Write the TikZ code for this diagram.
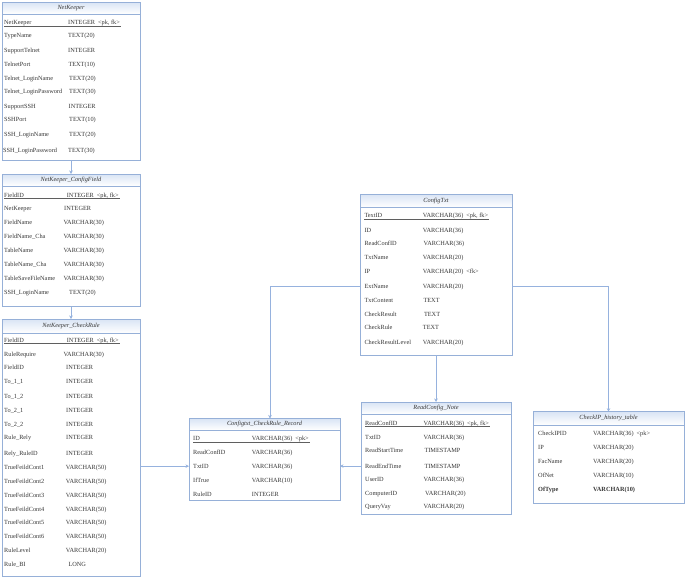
\documentclass[tikz,border=0pt]{standalone}
\usepackage{fontspec}
\setmainfont{Liberation Serif}
\usetikzlibrary{arrows.meta}
\definecolor{bcol}{RGB}{150,176,216}
\definecolor{lcol}{RGB}{150,178,222}
\definecolor{tcol}{RGB}{55,55,55}
\definecolor{htop}{RGB}{218,229,245}
\tikzset{
  tbox/.style={draw=bcol, line width=0.7pt, fill=white, inner sep=0pt, outer sep=0pt},
  htext/.style={font=\fontsize{6.3}{7}\selectfont\itshape, text=tcol, inner sep=0pt},
  rtext/.style={font=\fontsize{6.3}{7}\selectfont, text=tcol, inner sep=0pt, anchor=base west},
  conn/.style={draw=lcol, line width=0.6pt, -{Stealth[length=3.5pt,width=3.5pt]}},
  ul/.style={draw=tcol!80, line width=0.4pt},
}
% name, x1, y1, x2, y2, title, header height
\newcommand\ertab[7]{%
  \node[tbox, anchor=north west, minimum width={#4pt-#2pt}, minimum height={#5pt-#3pt}] (#1) at (#2,#3) {};
  \shade[top color=htop, bottom color=white] ([xshift=0.35pt,yshift=-0.35pt]#1.north west) rectangle ([xshift=-0.35pt,yshift=-#7pt]#1.north east);
  \draw[draw=bcol, line width=0.7pt] ([yshift=-#7pt]#1.north west) -- ([yshift=-#7pt]#1.north east);
  \draw[draw=bcol, line width=0.7pt] (#1.north west) rectangle (#1.south east);
  \node[htext] (#1-title) at ([yshift={-#7pt/2}]#1.north) {#6};
}
% id, y, xname, name, xtype, type
\newcommand\errow[6]{%
  \node[rtext] (#1n) at ([yshift=-2.2pt]#3,#2) {#4};
  \node[rtext] (#1t) at ([yshift=-2.2pt]#5,#2) {#6};
}
\newcommand\erul[1]{\draw[ul] ([yshift=-1.3pt]#1n.base west) -- ([yshift=-1.3pt,xshift=1pt]#1t.base east);}
\begin{document}
\begin{tikzpicture}[x=1pt, y=-1pt]
\useasboundingbox (0,0) rectangle (685,578);

% NetKeeper
\ertab{nk}{2}{2}{140}{160}{NetKeeper}{12}
\errow{nk1}{22.7}{4}{NetKeeper}{68}{INTEGER\hspace{3pt}<pk, fk>}\erul{nk1}
\errow{nk2}{35.7}{4}{TypeName}{68}{TEXT(20)}
\errow{nk3}{50}{4}{SupportTelnet}{68}{INTEGER}
\errow{nk4}{64}{4}{TelnetPort}{68.3}{TEXT(10)}
\errow{nk5}{78}{4}{Telnet\_LoginName}{69}{TEXT(20)}
\errow{nk6}{91.7}{4}{Telnet\_LoginPassword}{69}{TEXT(30)}
\errow{nk7}{106.7}{4}{SupportSSH}{68.5}{INTEGER}
\errow{nk8}{119}{4}{SSHPort}{69}{TEXT(10)}
\errow{nk9}{134}{4}{SSH\_LoginName}{69}{TEXT(20)}
\errow{nk10}{150}{3}{SSH\_LoginPassword}{68}{TEXT(30)}

% NetKeeper_ConfigField
\ertab{cf}{2}{174}{140}{306.7}{NetKeeper\_ConfigField}{12}
\errow{cf1}{195}{4}{FieldID}{66.7}{INTEGER\hspace{3pt}<pk, fk>}\erul{cf1}
\errow{cf2}{208.3}{4}{NetKeeper}{64}{INTEGER}
\errow{cf3}{222.7}{4}{FieldName}{63.3}{VARCHAR(30)}
\errow{cf4}{236.7}{4}{FieldName\_Cha}{63.3}{VARCHAR(30)}
\errow{cf5}{250.7}{4}{TableName}{63.3}{VARCHAR(30)}
\errow{cf6}{264.3}{4}{TableName\_Cha}{63.3}{VARCHAR(30)}
\errow{cf7}{278.3}{4}{TableSaveFileName}{63.3}{VARCHAR(30)}
\errow{cf8}{292.7}{4}{SSH\_LoginName}{69}{TEXT(20)}

% NetKeeper_CheckRule
\ertab{cr}{2}{319}{140}{576.5}{NetKeeper\_CheckRule}{14}
\errow{cr1}{340}{4}{FieldID}{66.7}{INTEGER\hspace{3pt}<pk, fk>}\erul{cr1}
\errow{cr2}{354}{4}{RuleRequire}{63.3}{VARCHAR(30)}
\errow{cr3}{367.7}{4}{FieldID}{66}{INTEGER}
\errow{cr4}{381.7}{4}{To\_1\_1}{66}{INTEGER}
\errow{cr5}{396}{4}{To\_1\_2}{66}{INTEGER}
\errow{cr6}{410}{4}{To\_2\_1}{66}{INTEGER}
\errow{cr7}{424}{4}{To\_2\_2}{66}{INTEGER}
\errow{cr8}{437.7}{4}{Rule\_Rely}{66}{INTEGER}
\errow{cr9}{453.3}{4}{Rely\_RuleID}{66}{INTEGER}
\errow{cr10}{467.3}{4}{TrueFeildCont1}{65.7}{VARCHAR(50)}
\errow{cr11}{481}{4}{TrueFeildCont2}{65.7}{VARCHAR(50)}
\errow{cr12}{495}{4}{TrueFeildCont3}{65.7}{VARCHAR(50)}
\errow{cr13}{509}{4}{TrueFeildCont4}{65.7}{VARCHAR(50)}
\errow{cr14}{522.7}{4}{TrueFeildCont5}{65.7}{VARCHAR(50)}
\errow{cr15}{536.7}{4}{TrueFeildCont6}{65.7}{VARCHAR(50)}
\errow{cr16}{550}{4}{RuleLevel}{65.7}{VARCHAR(20)}
\errow{cr17}{564}{4}{Rule\_BI}{68.3}{LONG}

% Configtxt_CheckRule_Record
\ertab{rec}{189}{418.5}{340}{500}{Configtxt\_CheckRule\_Record}{11.5}
\errow{rec1}{438.3}{193}{ID}{251.7}{VARCHAR(36)\hspace{3pt}<pk>}\erul{rec1}
\errow{rec2}{452.3}{193}{ReadConfID}{251.7}{VARCHAR(36)}
\errow{rec3}{466}{193}{TxtID}{251.7}{VARCHAR(36)}
\errow{rec4}{480}{193}{IfTrue}{251.7}{VARCHAR(10)}
\errow{rec5}{494}{193}{RuleID}{251.7}{INTEGER}

% ConfigTxt
\ertab{ct}{360}{194}{512}{355}{ConfigTxt}{13.3}
\errow{ct1}{215.7}{364.3}{TextID}{422.7}{VARCHAR(36)\hspace{3pt}<pk, fk>}\erul{ct1}
\errow{ct2}{230}{364.3}{ID}{422.7}{VARCHAR(36)}
\errow{ct3}{243.3}{364.3}{ReadConfID}{423.5}{VARCHAR(36)}
\errow{ct4}{257.7}{364.3}{TxtName}{422.7}{VARCHAR(20)}
\errow{ct5}{271.7}{364.3}{IP}{422.7}{VARCHAR(20)\hspace{3pt}<fk>}
\errow{ct6}{286}{364.3}{ExtName}{422.7}{VARCHAR(20)}
\errow{ct7}{300}{364.3}{TxtContent}{423.3}{TEXT}
\errow{ct8}{314.3}{364.3}{CheckResult}{423.8}{TEXT}
\errow{ct9}{327.3}{364.3}{CheckRule}{422.7}{TEXT}
\errow{ct10}{342.3}{364.3}{CheckResultLevel}{422.7}{VARCHAR(20)}

% ReadConfig_Note
\ertab{rn}{361}{402}{511}{514.7}{ReadConfig\_Note}{12}
\errow{rn1}{423}{365}{ReadConfID}{423.5}{VARCHAR(36)\hspace{3pt}<pk, fk>}\erul{rn1}
\errow{rn2}{437.3}{365}{TxtID}{423.5}{VARCHAR(36)}
\errow{rn3}{450.7}{365}{ReadStartTime}{424.3}{TIMESTAMP}
\errow{rn4}{466}{365}{ReadEndTime}{424.3}{TIMESTAMP}
\errow{rn5}{479}{365}{UserID}{423.5}{VARCHAR(36)}
\errow{rn6}{493}{365}{ComputerID}{425}{VARCHAR(20)}
\errow{rn7}{506.3}{365}{QueryVay}{423.5}{VARCHAR(20)}

% CheckIP_history_table
\ertab{ip}{533}{411.7}{684}{503}{CheckIP\_history\_table}{13.3}
\errow{ip1}{433.3}{538}{CheckIPID}{593}{VARCHAR(36)\hspace{3pt}<pk>}
\errow{ip2}{447.3}{538}{IP}{593}{VARCHAR(20)}
\errow{ip3}{461}{538}{FacName}{593}{VARCHAR(20)}
\errow{ip4}{475}{538}{OfNet}{593}{VARCHAR(10)}
\errow{ip5}{489}{538}{\textbf{OfType}}{593}{\textbf{VARCHAR(10)}}

% connectors
\draw[conn] (nk.south) -- (cf.north);
\draw[conn] (cf.south) -- (cr.north);
\draw[conn] (cr.east |- rec3n.west) -- (rec.west |- rec3n.west);
\draw[conn] (rn.west |- rn4n.west) -- (rec.east |- rn4n.west);
\draw[conn] (ct.west |- ct6n.west) -| ([xshift=81pt]rec.north west);
\draw[conn] (ct.south) -- (ct.south |- rn.north);
\draw[conn] (ct.east |- ct6n.west) -| (ip.north);
\end{tikzpicture}
\end{document}
